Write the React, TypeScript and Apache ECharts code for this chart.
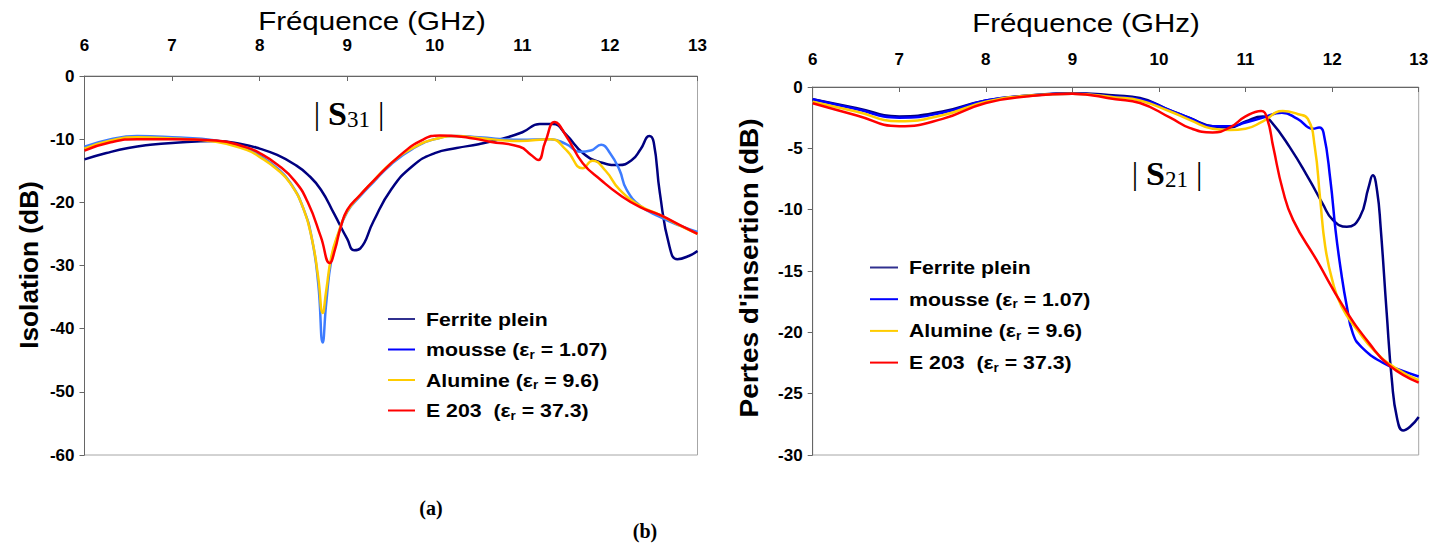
import React, { useEffect, useRef } from "react";
import * as echarts from "echarts";

// ---------- Data (frequency GHz, dB) ----------
const FREQ_TICKS = [6, 7, 8, 9, 10, 11, 12, 13];
const SERIES_NAMES = ["Ferrite plein", "mousse", "Alumine", "E 203"];
const EPS_VALUES = ["", "1.07", "9.6", "37.3"];

// (a) |S31| isolation
const S31_FERRITE: [number, number][] = [
  [6.0, -13.2], [6.25, -12.2], [6.5, -11.4], [6.75, -10.9], [7.0, -10.6], [7.5, -10.3],
  [7.8, -10.8], [8.0, -11.5], [8.2, -12.5], [8.4, -14.0], [8.55, -15.6], [8.7, -18.0],
  [8.85, -21.8], [9.0, -25.8], [9.08, -27.6], [9.15, -27.3], [9.3, -23], [9.5, -18],
  [9.75, -14.2], [10.0, -12.2], [10.25, -11.4], [10.5, -10.8], [10.75, -10.0], [11.0, -8.9],
  [11.2, -7.6], [11.35, -7.6], [11.5, -9.3], [11.7, -12.3], [11.9, -13.7], [12.1, -14.1],
  [12.25, -13.3], [12.35, -11.6], [12.45, -9.5], [12.5, -10.5], [12.57, -18.5], [12.68, -27],
  [12.77, -29], [12.9, -28.5], [13.0, -27.7],
];
const S31_MOUSSE: [number, number][] = [
  [6.0, -11.2], [6.3, -10.0], [6.6, -9.5], [7.0, -9.7], [7.5, -10.2], [7.85, -11.5],
  [8.0, -12.6], [8.2, -14.6], [8.35, -16.9], [8.5, -21], [8.6, -26], [8.67, -33], [8.72, -42.2],
  [8.76, -36], [8.82, -29], [8.9, -25], [9.0, -21.5], [9.15, -19], [9.3, -16.8],
  [9.5, -14], [9.75, -11.5], [10.0, -10.0], [10.25, -9.5], [10.5, -9.7], [10.97, -10.1],
  [11.32, -10.0], [11.5, -10.8], [11.66, -12.0], [11.78, -11.8], [11.9, -10.9], [12.0, -12.2],
  [12.11, -14.9], [12.19, -18.0], [12.35, -20.6], [12.57, -22.3], [12.8, -23.7], [13.0, -24.7],
];
const S31_ALUMINE: [number, number][] = [
  [6.0, -11.5], [6.3, -10.2], [6.6, -9.7], [7.0, -9.9], [7.5, -10.4], [7.85, -11.7],
  [8.0, -12.8], [8.2, -14.8], [8.35, -17.0], [8.5, -21], [8.6, -26], [8.67, -32], [8.72, -37.5],
  [8.76, -34], [8.82, -28.5], [8.9, -24.8], [9.0, -21.4], [9.15, -18.8], [9.3, -16.6],
  [9.5, -13.8], [9.75, -11.4], [10.0, -10.0], [10.25, -9.5], [10.5, -9.8], [10.97, -10.3],
  [11.32, -10.0], [11.5, -11.7], [11.69, -14.6], [11.8, -13.4], [11.95, -15.0], [12.11, -18.0],
  [12.35, -20.6], [12.57, -22.0], [12.8, -23.7], [13.0, -25.0],
];
const S31_E203: [number, number][] = [
  [6.0, -11.8], [6.3, -10.5], [6.6, -10.0], [7.0, -10.0], [7.5, -10.2], [7.85, -11.3],
  [8.0, -12.2], [8.2, -14.0], [8.4, -16.6], [8.55, -20], [8.7, -25.5], [8.8, -29.6], [8.86, -27.5],
  [8.92, -24.2], [9.0, -21.2], [9.15, -18.8], [9.3, -16.6], [9.6, -12.6], [9.86, -10.1],
  [10.06, -9.4], [10.4, -9.8], [10.63, -10.4], [10.97, -11.2], [11.1, -12.5], [11.18, -13.3],
  [11.26, -10.5], [11.37, -7.3], [11.5, -9.5], [11.69, -13.8], [11.9, -16.5], [12.11, -18.8],
  [12.35, -20.8], [12.57, -22.0], [12.8, -23.6], [13.0, -25.0],
];

// (b) |S21| insertion loss
const S21_FERRITE: [number, number][] = [
  [6.0, -1.0], [6.5, -1.7], [7.0, -2.4], [7.5, -2.0], [8.0, -1.1], [8.5, -0.7],
  [9.0, -0.5], [9.5, -0.7], [9.78, -0.9], [10.13, -1.9], [10.36, -2.55], [10.62, -3.2],
  [10.82, -3.3], [11.0, -2.8], [11.2, -2.4], [11.28, -2.7], [11.51, -4.9], [11.74, -7.6],
  [11.89, -9.5], [12.01, -10.85], [12.17, -11.4], [12.32, -10.6], [12.42, -8.2], [12.47, -7.2],
  [12.52, -8.5], [12.56, -11.4], [12.63, -18.4], [12.69, -23.9], [12.75, -27], [12.82, -28],
  [12.9, -27.7], [13.0, -26.9],
];
const S21_MOUSSE: [number, number][] = [
  [6.0, -1.0], [6.5, -1.8], [7.0, -2.5], [7.5, -2.1], [8.0, -1.1], [8.5, -0.7],
  [9.0, -0.55], [9.5, -0.8], [9.78, -1.0], [10.13, -1.9], [10.36, -2.55], [10.62, -3.2],
  [10.82, -3.2], [11.0, -2.9], [11.2, -2.5], [11.42, -2.1], [11.6, -2.6], [11.78, -3.4],
  [11.85, -3.3], [11.9, -3.7], [11.98, -7.6], [12.04, -11.7], [12.1, -14.9], [12.17, -17.9],
  [12.24, -20.1], [12.34, -21.2], [12.59, -22.5], [12.8, -23.1], [13.0, -23.6],
];
const S21_ALUMINE: [number, number][] = [
  [6.0, -1.2], [6.5, -2.0], [7.0, -2.8], [7.5, -2.3], [8.0, -1.2], [8.5, -0.7],
  [9.0, -0.55], [9.5, -0.85], [9.78, -1.1], [10.13, -2.0], [10.36, -2.7], [10.62, -3.4],
  [10.82, -3.5], [11.0, -3.4], [11.2, -2.8], [11.43, -1.96], [11.6, -2.2], [11.72, -2.6],
  [11.8, -4.9], [11.86, -9.0], [11.92, -13.0], [12.0, -15.7], [12.11, -17.9], [12.3, -19.9],
  [12.5, -21.6], [12.75, -23.0], [13.0, -23.9],
];
const S21_E203: [number, number][] = [
  [6.0, -1.33], [6.5, -2.3], [7.0, -3.2], [7.5, -2.6], [8.0, -1.3], [8.5, -0.75],
  [9.0, -0.55], [9.5, -1.0], [9.78, -1.3], [10.13, -2.5], [10.36, -3.35], [10.62, -3.7],
  [10.82, -3.3], [11.0, -2.4], [11.18, -1.95], [11.25, -2.6], [11.32, -4.9], [11.43, -8.4],
  [11.55, -10.85], [11.82, -14.1], [12.13, -17.9], [12.43, -20.9], [12.66, -22.7], [13.0, -24.1],
];

const S31_DATA = [S31_FERRITE, S31_MOUSSE, S31_ALUMINE, S31_E203];
const S21_DATA = [S21_FERRITE, S21_MOUSSE, S21_ALUMINE, S21_E203];
const S31_COLORS = ["#000080", "#3d7cff", "#ffcc00", "#ff0000"];
const S21_COLORS = ["#000080", "#0000ff", "#ffcc00", "#ff0000"];
const LEGEND_COLORS = ["#30308f", "#0000ff", "#ffcc00", "#ff0000"];

const SANS = "'Liberation Sans', Arial, sans-serif";
const SERIF = "'Liberation Serif', 'Times New Roman', serif";

function legendGraphics(x0: number, y0: number, step: number, lineLen: number, textX: number) {
  const els: any[] = [];
  SERIES_NAMES.forEach((name, i) => {
    const y = y0 + i * step;
    els.push({
      type: "line",
      shape: { x1: x0, y1: y, x2: x0 + lineLen, y2: y },
      style: { stroke: LEGEND_COLORS[i], lineWidth: 2 },
    });
    const eps = EPS_VALUES[i];
    const gap = i === 3 ? "  " : " ";
    const text = eps ? `{t|${name}${gap}(ε}{s|r}{t| = ${eps})}` : `{t|${name}}`;
    els.push({
      type: "text",
      x: textX,
      y: y,
      scaleX: 1.12,
      style: {
        text,
        fill: "#000",
        textVerticalAlign: "middle",
        verticalAlign: "middle",
        rich: {
          t: { fontFamily: SANS, fontWeight: "bold", fontSize: 19, fill: "#000", lineHeight: 22 },
          s: { fontFamily: SANS, fontWeight: "bold", fontSize: 12, fill: "#000", lineHeight: 14, verticalAlign: "bottom", padding: [9, 0, 0, 0] },
        },
      },
    });
  });
  return els;
}

function titleText(text: string, x: number, y: number, size: number, weight: string, rotation = 0, scaleX = 1) {
  return {
    type: "text",
    x,
    y,
    rotation,
    scaleX,
    style: {
      text,
      fontFamily: SANS,
      fontSize: size,
      fontWeight: weight,
      fill: "#000",
      textAlign: "center",
      align: "center",
      textVerticalAlign: "middle",
      verticalAlign: "middle",
    },
  };
}

function sLabel(num: string, x: number, y: number) {
  return {
    type: "text",
    x,
    y,
    style: {
      text: `{p|| }{b|S}{n|${num}}{p| |}`,
      textAlign: "center",
      align: "center",
      textVerticalAlign: "middle",
      verticalAlign: "middle",
      rich: {
        p: { fontFamily: SERIF, fontSize: 32, fill: "#000", lineHeight: 36 },
        b: { fontFamily: SERIF, fontSize: 34, fontWeight: "bold", fill: "#000", lineHeight: 36 },
        n: { fontFamily: SERIF, fontSize: 23, fill: "#000", lineHeight: 22, verticalAlign: "bottom", padding: [12, 0, 0, 0] },
      },
    },
  };
}

function makeXAxis(gridIndex: number, margin: number) {
  return {
    gridIndex,
    type: "value",
    position: "top",
    min: 6,
    max: 13,
    interval: 1,
    axisLine: { show: true, lineStyle: { color: "#666", width: 1 } },
    axisTick: { show: true, inside: true, length: 5, lineStyle: { color: "#666" } },
    axisLabel: {
      margin,
      fontFamily: SANS,
      fontWeight: "bold",
      fontSize: 17,
      color: "#000",
      formatter: (v: number) => (FREQ_TICKS.includes(v) ? String(v) : ""),
    },
    splitLine: { show: false },
  };
}

function makeYAxis(gridIndex: number, min: number, interval: number) {
  return {
    gridIndex,
    type: "value",
    min,
    max: 0,
    interval,
    axisLine: { show: true, onZero: false, lineStyle: { color: "#666", width: 1 } },
    axisTick: { show: true, inside: false, length: 5, lineStyle: { color: "#666" } },
    axisLabel: { margin: 10, fontFamily: SANS, fontWeight: "bold", fontSize: 17, color: "#000" },
    splitLine: { show: false },
  };
}

export default function App() {
  const ref = useRef<HTMLDivElement>(null);
  useEffect(() => {
    document.body.style.margin = "0";
    if (!ref.current) return;
    const chart = echarts.init(ref.current, null, { renderer: "svg" });
    const series: any[] = [];
    S31_DATA.forEach((d, i) =>
      series.push({
        name: SERIES_NAMES[i],
        type: "line",
        xAxisIndex: 0,
        yAxisIndex: 0,
        data: d,
        showSymbol: false,
        symbol: "none",
        smooth: 0.5,
        lineStyle: { color: S31_COLORS[i], width: 2.5 },
        z: i === 0 ? 2 : 3 + i,
      })
    );
    S21_DATA.forEach((d, i) =>
      series.push({
        name: SERIES_NAMES[i],
        type: "line",
        xAxisIndex: 1,
        yAxisIndex: 1,
        data: d,
        showSymbol: false,
        symbol: "none",
        smooth: 0.5,
        lineStyle: { color: S21_COLORS[i], width: 2.5 },
        z: 2 + i,
      })
    );
    chart.setOption({
      animation: false,
      backgroundColor: "#fff",
      grid: [
        { left: 84.5, top: 76, width: 613, height: 379, show: true, borderColor: "#a6a6a6", borderWidth: 1 },
        { left: 812.7, top: 87, width: 606, height: 368, show: true, borderColor: "#a6a6a6", borderWidth: 1 },
      ],
      xAxis: [makeXAxis(0, 22), makeXAxis(1, 19)],
      yAxis: [makeYAxis(0, -60, 10), makeYAxis(1, -30, 5)],
      series,
      graphic: [
        titleText("Fréquence (GHz)", 372, 21, 25, "normal", 0, 1.18),
        titleText("Fréquence (GHz)", 1086, 23, 25, "normal", 0, 1.18),
        titleText("Isolation (dB)", 29, 265, 25, "bold", Math.PI / 2, 1.05),
        titleText("Pertes d'insertion (dB)", 750, 268, 25, "bold", Math.PI / 2, 1.12),
        sLabel("31", 349, 113),
        sLabel("21", 1167, 173),
        ...legendGraphics(388, 319, 30.5, 27, 426),
        ...legendGraphics(870, 267.5, 31.7, 28, 909),
        {
          type: "text",
          x: 431,
          y: 508,
          style: { text: "(a)", fontFamily: SERIF, fontWeight: "bold", fontSize: 20, fill: "#000", textAlign: "center", align: "center", textVerticalAlign: "middle", verticalAlign: "middle" },
        },
        {
          type: "text",
          x: 645,
          y: 531,
          style: { text: "(b)", fontFamily: SERIF, fontWeight: "bold", fontSize: 20, fill: "#000", textAlign: "center", align: "center", textVerticalAlign: "middle", verticalAlign: "middle" },
        },
      ],
    });
    return () => chart.dispose();
  }, []);
  return <div ref={ref} style={{ width: 1444, height: 545 }} />;
}
